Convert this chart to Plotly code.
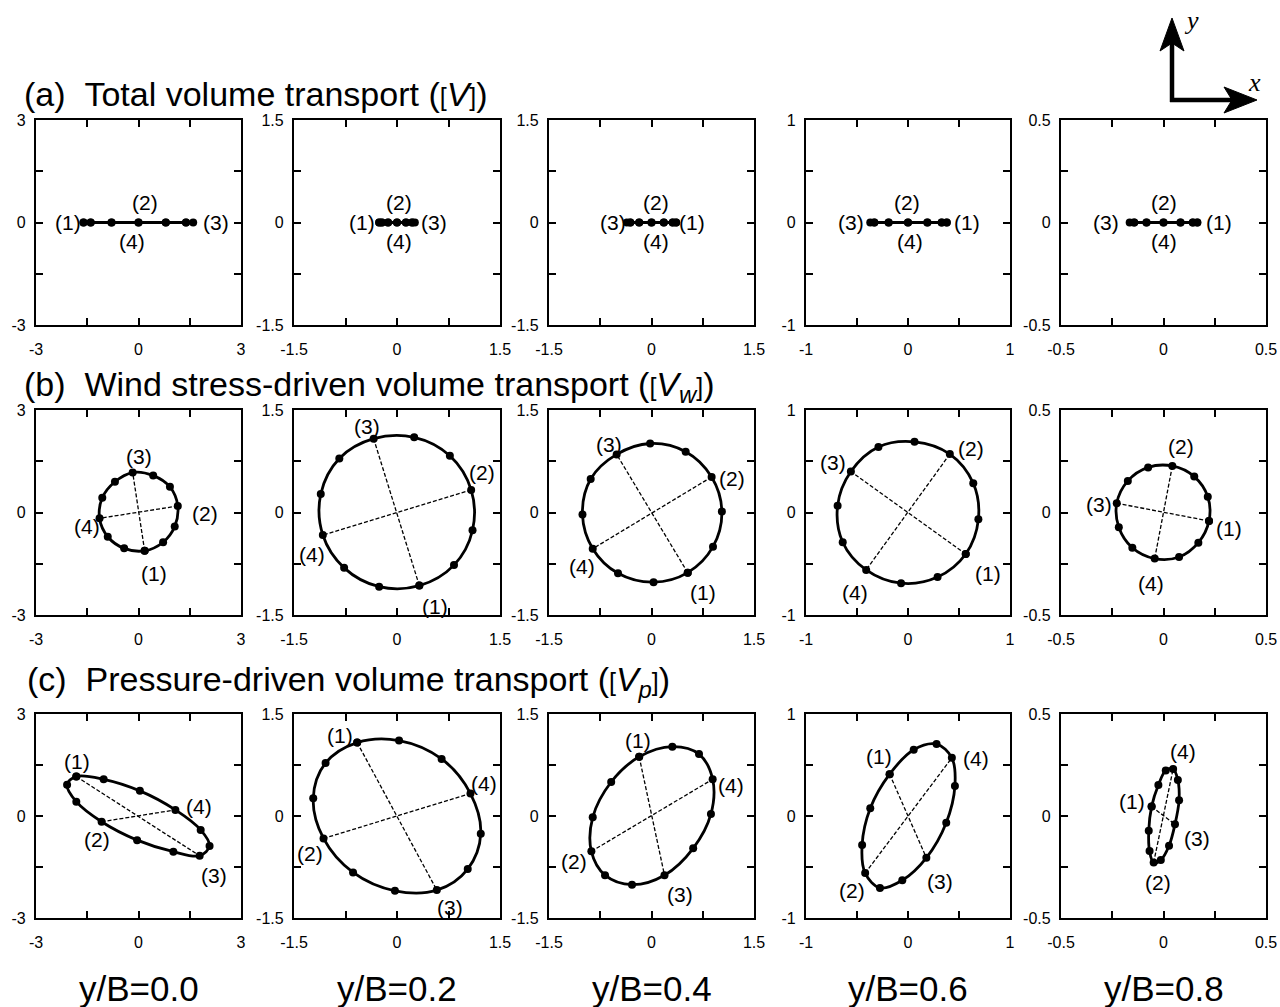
import plotly.graph_objects as go

# ---------------------------------------------------------------------------
# Data: hodographs of volume transport over one tidal cycle (12 phases).
# Phases (1)-(4) sit at indices 0, 3, 6, 9 of each list.
# ---------------------------------------------------------------------------
stations = ["y/B=0.0", "y/B=0.2", "y/B=0.4", "y/B=0.6", "y/B=0.8"]
limits = [3, 1.5, 1.5, 1, 0.5]
phase_labels = ["(1)", "(2)", "(3)", "(4)"]

# (a) total volume transport [V]
total_x = [
    [-1.61, -1.40, -0.79, 0.0, 0.80, 1.39, 1.60, 1.39, 0.80, 0.0, -0.79, -1.40],
    [-0.26, -0.22, -0.13, 0.0, 0.13, 0.22, 0.26, 0.22, 0.13, 0.0, -0.13, -0.22],
    [0.36, 0.31, 0.18, 0.0, -0.18, -0.31, -0.36, -0.31, -0.18, 0.0, 0.18, 0.31],
    [0.38, 0.33, 0.19, 0.0, -0.19, -0.33, -0.37, -0.33, -0.19, 0.0, 0.19, 0.33],
    [0.165, 0.143, 0.083, 0.0, -0.083, -0.143, -0.165, -0.143, -0.083, 0.0, 0.083, 0.143],
]
total_y = [[0.0] * 12 for _ in range(5)]

# (b) wind stress-driven volume transport [V_w]
wind_x = [
    [0.18, 0.72, 1.06, 1.15, 0.92, 0.43, -0.17, -0.69, -1.06, -1.14, -0.90, -0.42],
    [0.325, 0.83, 1.10, 1.08, 0.77, 0.25, -0.34, -0.84, -1.11, -1.08, -0.77, -0.26],
    [0.53, 0.90, 1.03, 0.88, 0.50, -0.02, -0.51, -0.89, -1.01, -0.86, -0.49, 0.03],
    [0.566, 0.69, 0.64, 0.41, 0.064, -0.29, -0.56, -0.69, -0.64, -0.41, -0.068, 0.29],
    [0.222, 0.216, 0.15, 0.043, -0.075, -0.174, -0.228, -0.218, -0.152, -0.043, 0.076, 0.17],
]
wind_y = [
    [-1.12, -0.87, -0.41, 0.19, 0.75, 1.08, 1.17, 0.90, 0.43, -0.17, -0.71, -1.05],
    [-1.07, -0.77, -0.26, 0.33, 0.83, 1.10, 1.08, 0.79, 0.27, -0.33, -0.81, -1.085],
    [-0.88, -0.50, 0.015, 0.52, 0.89, 1.01, 0.85, 0.49, -0.03, -0.53, -0.89, -1.02],
    [-0.405, -0.067, 0.285, 0.57, 0.69, 0.64, 0.40, 0.067, -0.29, -0.56, -0.69, -0.63],
    [-0.041, 0.077, 0.175, 0.227, 0.22, 0.154, 0.045, -0.072, -0.172, -0.225, -0.217, -0.147],
]

# (c) pressure-driven volume transport [V_p]
press_x = [
    [-1.82, -2.09, -1.82, -1.08, -0.04, 1.02, 1.79, 2.08, 1.82, 1.08, 0.04, -1.02],
    [-0.58, -1.04, -1.22, -1.07, -0.64, -0.03, 0.58, 1.03, 1.22, 1.07, 0.65, 0.03],
    [-0.18, -0.59, -0.86, -0.88, -0.68, -0.285, 0.19, 0.61, 0.87, 0.895, 0.695, 0.305],
    [-0.18, -0.37, -0.45, -0.42, -0.275, -0.056, 0.18, 0.375, 0.46, 0.43, 0.28, 0.056],
    [-0.058, -0.072, -0.068, -0.048, -0.013, 0.027, 0.056, 0.076, 0.070, 0.047, 0.011, -0.025],
]
press_y = [
    [1.16, 0.92, 0.42, -0.17, -0.71, -1.05, -1.17, -0.88, -0.41, 0.18, 0.74, 1.08],
    [1.08, 0.78, 0.26, -0.33, -0.83, -1.10, -1.09, -0.78, -0.26, 0.33, 0.84, 1.11],
    [0.87, 0.50, -0.02, -0.52, -0.87, -1.01, -0.87, -0.475, 0.03, 0.54, 0.91, 1.02],
    [0.41, 0.075, -0.285, -0.56, -0.705, -0.63, -0.41, -0.066, 0.295, 0.57, 0.705, 0.65],
    [0.046, -0.072, -0.172, -0.228, -0.216, -0.146, -0.041, 0.077, 0.177, 0.231, 0.223, 0.152],
]

BR = "<span style='font-size:25px'>{}</span>"
row_titles = [
    "(a)\u00a0\u00a0Total volume transport (" + BR.format("[") + "<i>V</i>" + BR.format("]") + ")",
    "(b)\u00a0\u00a0Wind stress-driven volume transport (" + BR.format("[")
    + "<i>V</i><sub><i>w</i></sub>" + BR.format("]") + ")",
    "(c)\u00a0\u00a0Pressure-driven volume transport (" + BR.format("[")
    + "<i>V</i><sub><i>p</i></sub>" + BR.format("]") + ")",
]

# ---------------------------------------------------------------------------
# Layout geometry (pixels) and phase-label offsets (dx right, dy down)
# ---------------------------------------------------------------------------
W, H = 1280, 1007
col_px = [(36, 241), (294, 500), (549, 754), (806, 1010), (1061, 1266)]
row_px = [(120, 325), (410, 615), (714, 918)]
title_px = [(22, 94), (22, 386), (25, 681)]

label_offsets = [
    [  # row a
        [(-15, 0), (6, -20), (23, 0), (-7, 19)],
        [(-17, 0), (2, -20), (19, 0), (2, 19)],
        [(16, 0), (4, -20), (-14, 0), (4, 19)],
        [(20, 0), (-1, -20), (-19, 0), (2, 19)],
        [(22, 0), (0, -20), (-24, 0), (0, 19)],
    ],
    [  # row b
        [(9, 23), (27, 7), (6, -16), (-13, 8)],
        [(16, 21), (11, -17), (-7, -12), (-11, 19)],
        [(15, 20), (20, 2), (-8, -10), (-11, 18)],
        [(22, 19), (21, -6), (-18, -9), (-11, 23)],
        [(20, 8), (9, -19), (-18, 1), (-4, 25)],
    ],
    [  # row c
        [(1, -15), (-5, 18), (14, 20), (24, -3)],
        [(-17, -7), (-14, 15), (13, 17), (14, -10)],
        [(-1, -16), (-17, 10), (16, 19), (18, 6)],
        [(-11, -18), (-13, 17), (14, 24), (24, 1)],
        [(-20, -5), (4, 20), (22, 14), (10, -17)],
    ],
]

FONT = "Arial, 'Liberation Sans', sans-serif"
rows = [(total_x, total_y), (wind_x, wind_y), (press_x, press_y)]

fig = go.Figure()
annotations = []
layout = dict(
    width=W, height=H,
    margin=dict(l=0, r=0, t=0, b=0, autoexpand=False),
    paper_bgcolor="white", plot_bgcolor="white",
    showlegend=False,
    font=dict(family=FONT, color="black"),
)

for r, (xs_all, ys_all) in enumerate(rows):
    for c in range(5):
        k = r * 5 + c + 1
        xa, ya = ("x" if k == 1 else f"x{k}"), ("y" if k == 1 else f"y{k}")
        L = limits[c]
        xs, ys = xs_all[c], ys_all[c]

        # closed hodograph curve with phase markers
        fig.add_trace(go.Scatter(
            x=xs + xs[:1], y=ys + ys[:1], xaxis=xa, yaxis=ya,
            mode="lines+markers", line=dict(color="black", width=2.8, shape="spline"),
            marker=dict(color="black", size=8), hoverinfo="skip",
        ))
        # dashed chords (1)-(3) and (2)-(4)
        for i0, i1 in [(0, 6), (3, 9)]:
            fig.add_trace(go.Scatter(
                x=[xs[i0], xs[i1]], y=[ys[i0], ys[i1]], xaxis=xa, yaxis=ya,
                mode="lines", line=dict(color="black", width=1.3, dash="4px,2px"),
                hoverinfo="skip",
            ))

        x0, x1 = col_px[c]
        y0, y1 = row_px[r]
        common = dict(
            range=[-L, L], tickvals=[-L, 0, L],
            ticktext=[f"{-L:g}", "0", f"{L:g}"],
            ticks="inside", ticklen=7, tickwidth=1.6, tickcolor="black",
            minor=dict(tickvals=[-L / 2, L / 2], ticks="inside", ticklen=7,
                       tickwidth=1.6, tickcolor="black", showgrid=False),
            showline=True, linecolor="black", linewidth=2.2, mirror="ticks",
            showgrid=False, zeroline=False, fixedrange=True, automargin=False,
            tickfont=dict(size=16, family=FONT, color="black"),
        )
        layout[f"xaxis{k}"] = dict(common, domain=[x0 / W, x1 / W],
                                   anchor=ya, ticklabelstandoff=9)
        layout[f"yaxis{k}"] = dict(common, domain=[1 - y1 / H, 1 - y0 / H],
                                   anchor=xa, ticklabelstandoff=5)

        # phase labels
        for j in range(4):
            dx, dy = label_offsets[r][c][j]
            annotations.append(dict(
                x=xs[3 * j], y=ys[3 * j], xref=xa, yref=ya,
                text=phase_labels[j], showarrow=False,
                xshift=dx, yshift=-dy, font=dict(size=21, family=FONT),
            ))

# row titles
for r in range(3):
    tx, ty = title_px[r]
    annotations.append(dict(
        x=tx / W, y=1 - ty / H, xref="paper", yref="paper",
        xanchor="left", yanchor="middle", showarrow=False,
        text=row_titles[r], font=dict(size=34, family=FONT),
    ))

# station captions under each column
for c in range(5):
    x0, x1 = col_px[c]
    annotations.append(dict(
        x=(x0 + x1) / 2 / W, y=1 - 988 / H, xref="paper", yref="paper",
        xanchor="center", yanchor="middle", showarrow=False,
        text=stations[c], font=dict(size=35, family=FONT),
    ))


# coordinate-direction arrows (drawn as paper-space shapes)
def px(x, y):
    return f"{x / W:.5f},{1 - y / H:.5f}"


shapes = [
    dict(type="line", xref="paper", yref="paper", x0=1172 / W, x1=1172 / W,
         y0=1 - 102 / H, y1=1 - 40 / H, line=dict(color="black", width=4.5)),
    dict(type="line", xref="paper", yref="paper", x0=1170 / W, x1=1236 / W,
         y0=1 - 100 / H, y1=1 - 100 / H, line=dict(color="black", width=4.5)),
    dict(type="path", xref="paper", yref="paper", fillcolor="black",
         line=dict(color="black", width=1),
         path=f"M{px(1172, 18)} L{px(1160, 51)} L{px(1172, 43)} L{px(1184, 51)} Z"),
    dict(type="path", xref="paper", yref="paper", fillcolor="black",
         line=dict(color="black", width=1),
         path=f"M{px(1257, 100)} L{px(1224, 87)} L{px(1232, 100)} L{px(1224, 113)} Z"),
]
for txt, tpos in [("y", (1191, 20)), ("x", (1254, 82))]:
    annotations.append(dict(
        x=tpos[0] / W, y=1 - tpos[1] / H, xref="paper", yref="paper",
        text=f"<i>{txt}</i>", showarrow=False, xanchor="center", yanchor="middle",
        font=dict(size=26, family="'Liberation Serif', 'Times New Roman', serif"),
    ))

layout["annotations"] = annotations
layout["shapes"] = shapes
fig.update_layout(**layout)
fig.write_html("out.html")
